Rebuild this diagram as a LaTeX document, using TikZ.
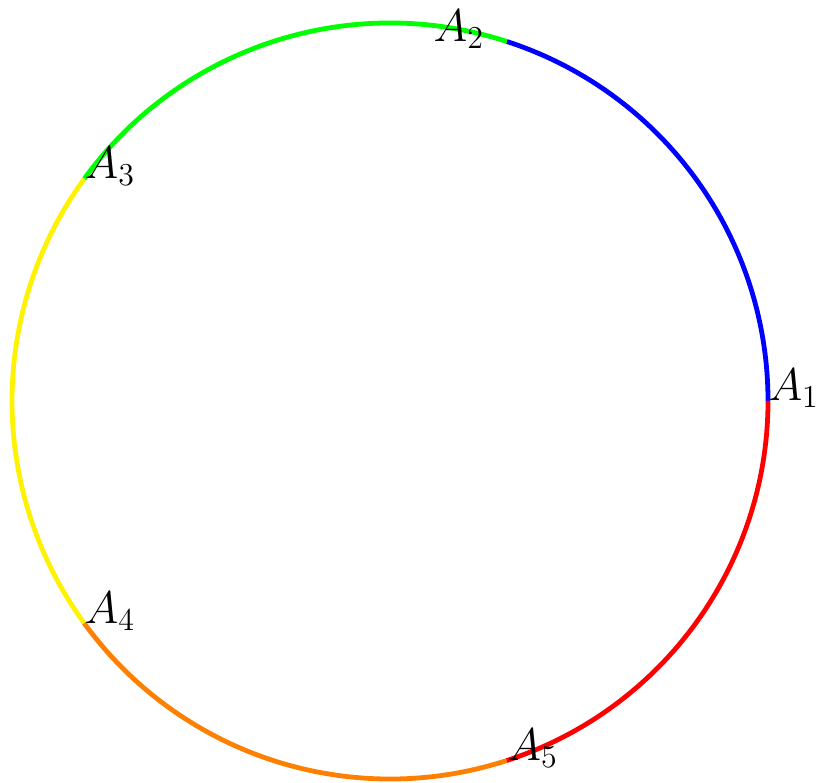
\documentclass[tikz,border=0pt]{standalone}
\usepackage{tikz}
\usetikzlibrary{positioning}

\tikzset{
  arcline/.style={line width=1.8pt},
  ptlabel/.style={font=\LARGE,anchor=base west,inner sep=0pt}
}

\begin{document}
\begin{tikzpicture}
\useasboundingbox (-5.159,-5.040) rectangle (5.648,5.304);
\draw [arcline,blue]          (0:5)   arc (0:72:5);
\draw [arcline,green]         (72:5)  arc (72:144:5);
\draw [arcline,yellow]        (144:5) arc (144:216:5);
\draw [arcline,orange]        (216:5) arc (216:288:5);
\draw [arcline,red]           (288:5) arc (288:360:5);
\node [ptlabel] (a1) at (0:5)       {$A_1$};
\node [ptlabel] (a2) at (0.57,4.755) {$A_2$};
\node [ptlabel] (a3) at (144:5)     {$A_3$};
\node [ptlabel] (a4) at (216:5)     {$A_4$};
\node [ptlabel] (a5) at (288:5)     {$A_5$};
\end{tikzpicture}
\end{document}
